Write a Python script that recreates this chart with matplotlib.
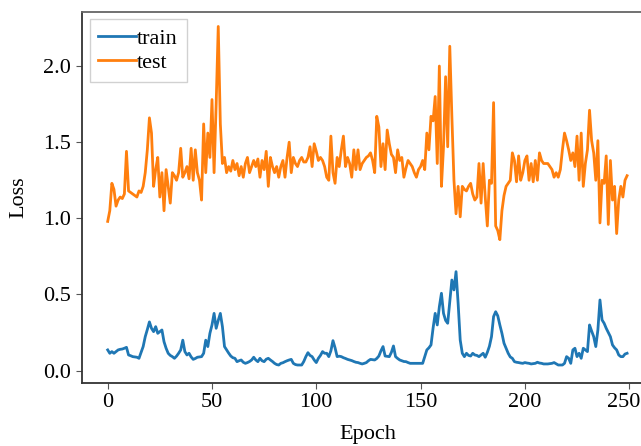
import matplotlib
matplotlib.use("Agg")
import matplotlib.pyplot as plt
import matplotlib.transforms as mtransforms

epochs = list(range(250))

train = [
    0.136, 0.114, 0.125, 0.114, 0.125, 0.136, 0.140, 0.142, 0.147, 0.153,
    0.103, 0.098, 0.092, 0.090, 0.088, 0.081, 0.120, 0.158, 0.223, 0.270,
    0.320, 0.278, 0.256, 0.289, 0.245, 0.256, 0.267, 0.190, 0.147, 0.114,
    0.100, 0.092, 0.081, 0.095, 0.114, 0.136, 0.200, 0.125, 0.103, 0.114,
    0.090, 0.074, 0.080, 0.088, 0.090, 0.092, 0.114, 0.200, 0.158, 0.245,
    0.300, 0.376, 0.278, 0.330, 0.376, 0.289, 0.158, 0.136, 0.115, 0.096,
    0.085, 0.081, 0.059, 0.065, 0.070, 0.055, 0.048, 0.053, 0.060, 0.070,
    0.088, 0.070, 0.059, 0.081, 0.065, 0.059, 0.075, 0.081, 0.070, 0.060,
    0.048, 0.040, 0.037, 0.048, 0.052, 0.059, 0.065, 0.070, 0.074, 0.048,
    0.040, 0.037, 0.037, 0.037, 0.060, 0.092, 0.118, 0.100, 0.092, 0.070,
    0.053, 0.081, 0.100, 0.125, 0.114, 0.114, 0.092, 0.130, 0.197, 0.150,
    0.092, 0.095, 0.092, 0.085, 0.080, 0.074, 0.070, 0.066, 0.060, 0.055,
    0.053, 0.048, 0.044, 0.048, 0.053, 0.065, 0.074, 0.072, 0.070, 0.080,
    0.096, 0.130, 0.158, 0.096, 0.094, 0.092, 0.120, 0.162, 0.092, 0.080,
    0.070, 0.065, 0.060, 0.059, 0.053, 0.048, 0.048, 0.048, 0.048, 0.048,
    0.048, 0.048, 0.092, 0.136, 0.150, 0.169, 0.280, 0.376, 0.300, 0.420,
    0.508, 0.376, 0.330, 0.311, 0.450, 0.595, 0.530, 0.650, 0.442, 0.201,
    0.114, 0.092, 0.114, 0.100, 0.096, 0.114, 0.103, 0.100, 0.092, 0.103,
    0.114, 0.088, 0.120, 0.160, 0.223, 0.355, 0.387, 0.360, 0.300, 0.245,
    0.180, 0.147, 0.114, 0.090, 0.081, 0.059, 0.055, 0.053, 0.050, 0.048,
    0.053, 0.050, 0.048, 0.044, 0.046, 0.048, 0.055, 0.050, 0.048, 0.044,
    0.044, 0.044, 0.046, 0.048, 0.053, 0.045, 0.037, 0.037, 0.037, 0.048,
    0.092, 0.081, 0.048, 0.136, 0.147, 0.092, 0.114, 0.081, 0.147, 0.136,
    0.125, 0.300, 0.260, 0.223, 0.158, 0.267, 0.464, 0.333, 0.311, 0.278,
    0.250, 0.223, 0.169, 0.150, 0.136, 0.103, 0.092, 0.092, 0.109, 0.114,
]

test = [
    0.98, 1.05, 1.23, 1.19, 1.08, 1.12, 1.14, 1.13, 1.16, 1.44,
    1.18, 1.17, 1.16, 1.15, 1.14, 1.18, 1.17, 1.21, 1.30, 1.45,
    1.66, 1.56, 1.21, 1.32, 1.40, 1.14, 1.30, 1.05, 1.32, 1.21,
    1.10, 1.30, 1.28, 1.25, 1.30, 1.46, 1.27, 1.30, 1.34, 1.26,
    1.46, 1.25, 1.45, 1.30, 1.25, 1.12, 1.62, 1.30, 1.56, 1.40,
    1.78, 1.30, 1.75, 2.26, 1.62, 1.36, 1.40, 1.30, 1.34, 1.31,
    1.38, 1.32, 1.36, 1.28, 1.34, 1.27, 1.36, 1.40, 1.30, 1.34,
    1.38, 1.34, 1.39, 1.27, 1.38, 1.32, 1.44, 1.21, 1.40, 1.34,
    1.30, 1.34, 1.27, 1.34, 1.38, 1.27, 1.40, 1.50, 1.30, 1.40,
    1.36, 1.34, 1.38, 1.40, 1.37, 1.37, 1.40, 1.47, 1.34, 1.49,
    1.44, 1.38, 1.40, 1.38, 1.34, 1.27, 1.25, 1.54, 1.30, 1.23,
    1.40, 1.34, 1.45, 1.54, 1.34, 1.40, 1.36, 1.27, 1.45, 1.32,
    1.45, 1.32, 1.36, 1.38, 1.40, 1.41, 1.43, 1.38, 1.30, 1.67,
    1.60, 1.34, 1.49, 1.32, 1.58, 1.49, 1.42, 1.40, 1.30, 1.45,
    1.38, 1.40, 1.27, 1.33, 1.38, 1.36, 1.34, 1.30, 1.27, 1.32,
    1.34, 1.38, 1.32, 1.56, 1.45, 1.67, 1.64, 1.80, 1.36, 2.00,
    1.21, 1.47, 1.93, 1.47, 2.13, 1.67, 1.25, 1.03, 1.21, 1.01,
    1.21, 1.19, 1.18, 1.21, 1.23, 1.16, 1.12, 1.14, 1.36, 1.10,
    1.36, 1.14, 0.95, 1.25, 1.23, 1.76, 0.95, 0.92, 0.86, 1.05,
    1.15, 1.21, 1.23, 1.25, 1.43, 1.38, 1.24, 1.41, 1.25, 1.30,
    1.38, 1.41, 1.25, 1.36, 1.24, 1.38, 1.25, 1.43, 1.38, 1.36,
    1.36, 1.36, 1.34, 1.32, 1.27, 1.30, 1.27, 1.32, 1.45, 1.56,
    1.51, 1.45, 1.38, 1.43, 1.34, 1.54, 1.25, 1.56, 1.21, 1.36,
    1.45, 1.71, 1.51, 1.43, 1.25, 1.51, 0.97, 1.25, 1.23, 1.41,
    0.96, 1.38, 1.12, 1.21, 0.90, 1.12, 1.21, 1.14, 1.25, 1.28,
]

xticks = [0, 50, 100, 150, 200, 250]
yticks = [0.0, 0.5, 1.0, 1.5, 2.0]

plt.rcParams['font.family'] = ['Liberation Serif', 'DejaVu Serif']

fig = plt.figure(figsize=(6.41, 4.46), dpi=100)
ax = fig.add_axes([0.1275, 0.1413, 0.8913, 0.8325])

ax.plot(epochs, train, color='#1f77b4', lw=2.0, label='train')
ax.plot(epochs, test, color='#ff7f0e', lw=2.0, label='test')

ax.set_xlim(-12.45, 261.45)
ax.set_ylim(-0.081, 2.357)
ax.set_xticks(xticks)
ax.set_yticks(yticks)
ax.set_xlabel('Epoch', fontsize=16, labelpad=9)
ax.set_ylabel('Loss', fontsize=16, labelpad=11)
ax.tick_params(axis='both', labelsize=16, length=4, width=0.8, color='#555555')
for s in ax.spines.values():
    s.set_color('#333333')
    s.set_linewidth(1.3)
ax.spines['top'].set_color('#666666')

# keep last x tick label inside the canvas
fig.canvas.draw()
lbl = ax.get_xticklabels()[-1]
lbl.set_transform(lbl.get_transform() + mtransforms.ScaledTranslation(-5/100, 0, fig.dpi_scale_trans))

leg = ax.legend(loc='upper left', fontsize=16, handletextpad=0.05,
                handlelength=1.7, borderpad=0.4, labelspacing=0.15,
                fancybox=False, framealpha=0.9, borderaxespad=0.35)
leg.get_frame().set_edgecolor('#cccccc')

fig.savefig('out.png', dpi=100)
